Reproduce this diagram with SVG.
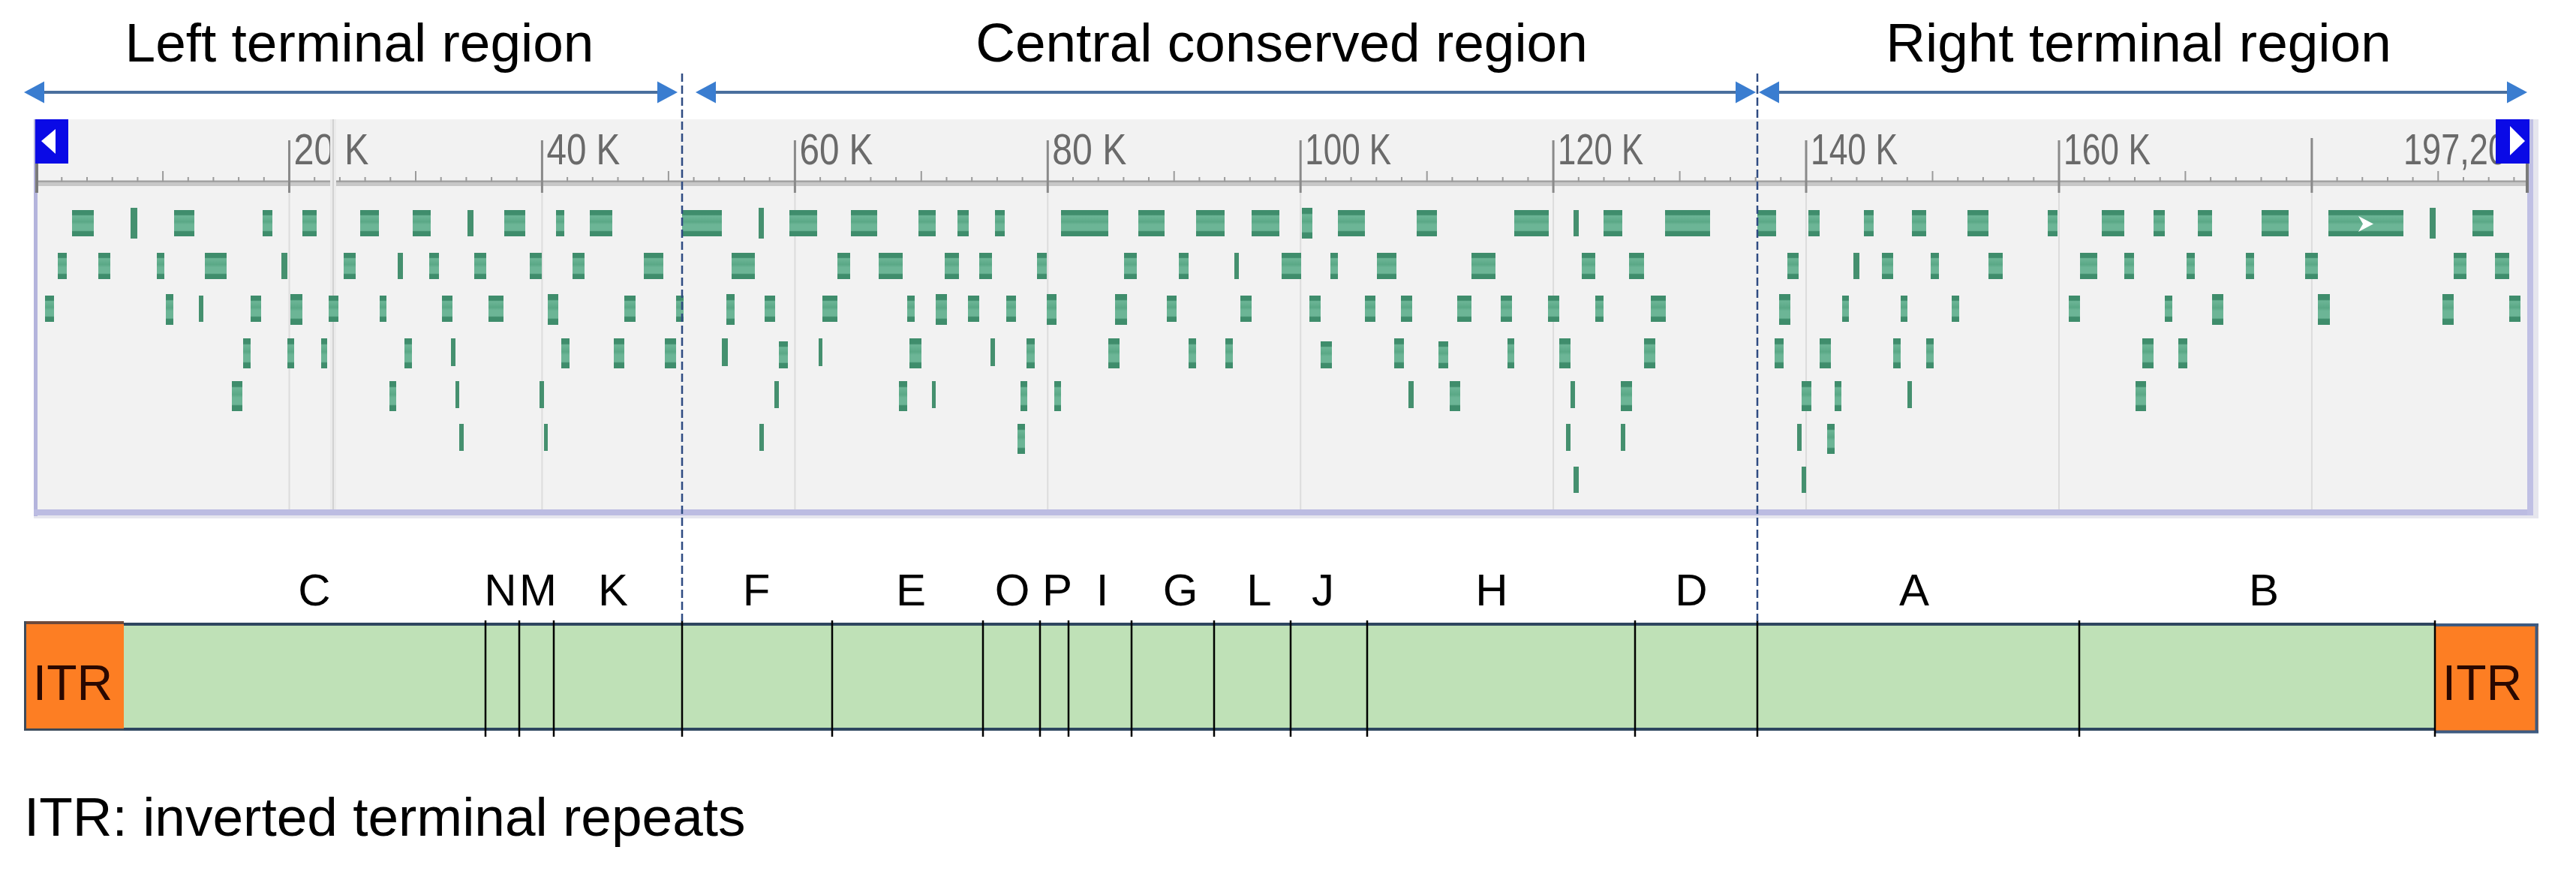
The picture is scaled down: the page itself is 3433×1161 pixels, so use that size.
<svg xmlns="http://www.w3.org/2000/svg" width="3433" height="1161" viewBox="0 0 3433 1161">
<style>
text{font-family:"Liberation Sans",Arial,sans-serif}
.title{font-size:73px;fill:#000;text-anchor:middle}
.lbl{font-size:60px;fill:#000;text-anchor:middle}
.itrt{font-size:66px;fill:#2a0800;text-anchor:middle}
.rl{font-size:58px;fill:#6a6a6a}
.g{fill:url(#gg)}
.t{fill:#45906f}
.seg{fill:#bfe1b7}
.div{stroke:#000;stroke-width:2.5}
.dash{stroke:#2f4b82;stroke-width:2.5;stroke-dasharray:11 5;fill:none}
.arr{stroke:#4a6f9e;stroke-width:4;fill:none;marker-start:url(#ah);marker-end:url(#ah)}
.grid{stroke:#dcdcdc;stroke-width:2}
.tick{stroke:#9a9a9a;stroke-width:2;fill:none}
.major{stroke:#8a8a8a;stroke-width:3;fill:none}
.itr{fill:#fd7e23}
.blue{fill:#0a0ae6}
</style>
<defs>
<linearGradient id="gg" x1="0" y1="0" x2="0" y2="1">
<stop offset="0" stop-color="#3f8d6c"/>
<stop offset="0.18" stop-color="#3f8d6c"/>
<stop offset="0.22" stop-color="#6cb596"/>
<stop offset="0.45" stop-color="#5aa886"/>
<stop offset="0.55" stop-color="#6cb596"/>
<stop offset="0.78" stop-color="#6cb596"/>
<stop offset="0.82" stop-color="#3f8d6c"/>
<stop offset="1" stop-color="#3f8d6c"/>
</linearGradient>
<marker id="ah" markerUnits="userSpaceOnUse" markerWidth="27" markerHeight="30" refX="0" refY="15" orient="auto-start-reverse" viewBox="0 0 27 30">
<path d="M0 0.5L27 15L0 29.5Z" fill="#3a7dd0"/>
</marker>
</defs>
<rect width="3433" height="1161" fill="#fff"/>

<!-- region titles -->
<g id="title-left"><text class="title" x="479" y="82">Left terminal region</text></g>
<g id="title-central"><text class="title" x="1708" y="82">Central conserved region</text></g>
<g id="title-right"><text class="title" x="2850" y="82">Right terminal region</text></g>

<!-- genome browser panel -->
<g id="panel">
<rect x="46" y="159" width="3326" height="522" fill="#f2f2f2"/>
<rect x="45" y="687" width="3338" height="4" fill="#e6e6ee"/>
<rect x="3376" y="159" width="7" height="532" fill="#e6e6ee"/>
<rect x="45" y="159" width="5" height="529" fill="#b4b4dc"/>
<rect x="45" y="679" width="3331" height="8" fill="#bcbce2"/>
<rect x="3368" y="159" width="8" height="528" fill="#c0c0e4"/>
<g class="grid">
<path d="M385.5 257V679M722.4 257V679M1059.4 257V679M1396.3 257V679M1733.2 257V679M2070.1 257V679M2407 257V679M2744 257V679M3080.9 257V679"/>
</g>
<rect x="49" y="240" width="3319" height="8" fill="#c8c8c8"/>
<path d="M49 242H3368" stroke="#a2a2a2" stroke-width="2"/>
<path class="tick" d="M82.3 236V242M116 236V242M149.7 236V242M183.4 236V242M250.8 236V242M284.4 236V242M318.1 236V242M351.8 236V242M419.2 236V242M452.9 236V242M486.6 236V242M520.3 236V242M587.7 236V242M621.4 236V242M655.1 236V242M688.7 236V242M756.1 236V242M789.8 236V242M823.5 236V242M857.2 236V242M924.6 236V242M958.3 236V242M992 236V242M1025.7 236V242M1093.1 236V242M1126.7 236V242M1160.4 236V242M1194.1 236V242M1261.5 236V242M1295.2 236V242M1328.9 236V242M1362.6 236V242M1430 236V242M1463.7 236V242M1497.4 236V242M1531 236V242M1598.4 236V242M1632.1 236V242M1665.8 236V242M1699.5 236V242M1766.9 236V242M1800.6 236V242M1834.3 236V242M1868 236V242M1935.4 236V242M1969 236V242M2002.7 236V242M2036.4 236V242M2103.8 236V242M2137.5 236V242M2171.2 236V242M2204.9 236V242M2272.3 236V242M2306 236V242M2339.7 236V242M2373.3 236V242M2440.7 236V242M2474.4 236V242M2508.1 236V242M2541.8 236V242M2609.2 236V242M2642.9 236V242M2676.6 236V242M2710.3 236V242M2777.7 236V242M2811.3 236V242M2845 236V242M2878.7 236V242M2946.1 236V242M2979.8 236V242M3013.5 236V242M3047.2 236V242M3114.6 236V242M3148.3 236V242M3182 236V242M3215.6 236V242M3283 236V242M3316.7 236V242M3350.4 236V242"/>
<path class="tick" d="M217.1 228V242M554 228V242M890.9 228V242M1227.8 228V242M1564.7 228V242M1901.7 228V242M2238.6 228V242M2575.5 228V242M2912.4 228V242M3249.3 228V242"/>
<path class="major" d="M385.5 187V257M722.4 187V257M1059.4 187V257M1396.3 187V257M1733.2 187V257M2070.1 187V257M2407 187V257M2744 187V257M3080.9 184V257"/>
<path d="M49 218V257M3368 218V257" stroke="#7a7a7a" stroke-width="4"/>
<text class="rl" x="391.5" y="219" textLength="100" lengthAdjust="spacingAndGlyphs">20 K</text>
<text class="rl" x="728.4" y="219" textLength="98" lengthAdjust="spacingAndGlyphs">40 K</text>
<text class="rl" x="1065.4" y="219" textLength="98" lengthAdjust="spacingAndGlyphs">60 K</text>
<text class="rl" x="1402.3" y="219" textLength="99" lengthAdjust="spacingAndGlyphs">80 K</text>
<text class="rl" x="1739.2" y="219" textLength="115" lengthAdjust="spacingAndGlyphs">100 K</text>
<text class="rl" x="2076.1" y="219" textLength="114" lengthAdjust="spacingAndGlyphs">120 K</text>
<text class="rl" x="2413" y="219" textLength="116" lengthAdjust="spacingAndGlyphs">140 K</text>
<text class="rl" x="2750" y="219" textLength="116" lengthAdjust="spacingAndGlyphs">160 K</text>
<text class="rl" x="3203" y="219" textLength="138" lengthAdjust="spacingAndGlyphs">197,20</text>
<rect x="440" y="159" width="8" height="520" fill="#ebebeb"/>
<path d="M444 159V679" stroke="#d2d2d2" stroke-width="2"/>

<g id="track-row1" transform="translate(0,280)">
<rect class="g" x="96" y="0" width="29" height="35"/>
<rect class="t" x="174" y="-3" width="9" height="41"/>
<rect class="g" x="232" y="0" width="27" height="35"/>
<rect class="g" x="350" y="0" width="13" height="35"/>
<rect class="g" x="403" y="0" width="19" height="35"/>
<rect class="g" x="480" y="0" width="25" height="35"/>
<rect class="g" x="550" y="0" width="24" height="35"/>
<rect class="t" x="623" y="0" width="8" height="35"/>
<rect class="g" x="672" y="0" width="28" height="35"/>
<rect class="g" x="741" y="0" width="11" height="35"/>
<rect class="g" x="786" y="0" width="30" height="35"/>
<rect class="g" x="909" y="0" width="53" height="35"/>
<rect class="t" x="1011" y="-3" width="7" height="41"/>
<rect class="g" x="1052" y="0" width="37" height="35"/>
<rect class="g" x="1134" y="0" width="35" height="35"/>
<rect class="g" x="1224" y="0" width="23" height="35"/>
<rect class="g" x="1276" y="0" width="15" height="35"/>
<rect class="g" x="1326" y="0" width="13" height="35"/>
<rect class="g" x="1414" y="0" width="63" height="35"/>
<rect class="g" x="1517" y="0" width="35" height="35"/>
<rect class="g" x="1594" y="0" width="38" height="35"/>
<rect class="g" x="1668" y="0" width="37" height="35"/>
<rect class="g" x="1735" y="-3" width="14" height="41"/>
<rect class="g" x="1783" y="0" width="36" height="35"/>
<rect class="g" x="1888" y="0" width="27" height="35"/>
<rect class="g" x="2018" y="0" width="46" height="35"/>
<rect class="t" x="2097" y="0" width="7" height="35"/>
<rect class="g" x="2137" y="0" width="25" height="35"/>
<rect class="g" x="2219" y="0" width="60" height="35"/>
<rect class="g" x="2342" y="0" width="25" height="35"/>
<rect class="g" x="2410" y="0" width="15" height="35"/>
<rect class="g" x="2484" y="0" width="13" height="35"/>
<rect class="g" x="2548" y="0" width="19" height="35"/>
<rect class="g" x="2622" y="0" width="28" height="35"/>
<rect class="g" x="2729" y="0" width="13" height="35"/>
<rect class="g" x="2801" y="0" width="30" height="35"/>
<rect class="g" x="2870" y="0" width="15" height="35"/>
<rect class="g" x="2929" y="0" width="19" height="35"/>
<rect class="g" x="3014" y="0" width="36" height="35"/>
<rect class="g" x="3103" y="0" width="100" height="35"/>
<polygon points="3143,8 3163,18.5 3143,29 3149,18.5" fill="#fff"/>
<rect class="t" x="3238" y="-3" width="8" height="41"/>
<rect class="g" x="3295" y="0" width="28" height="35"/>
</g>

<g id="track-row2" transform="translate(0,337)">
<rect class="g" x="77" y="0" width="12" height="35"/>
<rect class="g" x="131" y="0" width="16" height="35"/>
<rect class="g" x="209" y="0" width="10" height="35"/>
<rect class="g" x="273" y="0" width="29" height="35"/>
<rect class="t" x="375" y="0" width="8" height="35"/>
<rect class="g" x="458" y="0" width="16" height="35"/>
<rect class="t" x="530" y="0" width="7" height="35"/>
<rect class="g" x="572" y="0" width="13" height="35"/>
<rect class="g" x="632" y="0" width="16" height="35"/>
<rect class="g" x="706" y="0" width="16" height="35"/>
<rect class="g" x="763" y="0" width="16" height="35"/>
<rect class="g" x="858" y="0" width="26" height="35"/>
<rect class="g" x="975" y="0" width="31" height="35"/>
<rect class="g" x="1116" y="0" width="17" height="35"/>
<rect class="g" x="1171" y="0" width="32" height="35"/>
<rect class="g" x="1259" y="0" width="19" height="35"/>
<rect class="g" x="1305" y="0" width="17" height="35"/>
<rect class="g" x="1382" y="0" width="13" height="35"/>
<rect class="g" x="1498" y="0" width="17" height="35"/>
<rect class="g" x="1571" y="0" width="13" height="35"/>
<rect class="t" x="1645" y="0" width="6" height="35"/>
<rect class="g" x="1708" y="0" width="26" height="35"/>
<rect class="g" x="1773" y="0" width="10" height="35"/>
<rect class="g" x="1835" y="0" width="26" height="35"/>
<rect class="g" x="1961" y="0" width="32" height="35"/>
<rect class="g" x="2108" y="0" width="18" height="35"/>
<rect class="g" x="2171" y="0" width="20" height="35"/>
<rect class="g" x="2382" y="0" width="15" height="35"/>
<rect class="t" x="2470" y="0" width="8" height="35"/>
<rect class="g" x="2508" y="0" width="15" height="35"/>
<rect class="g" x="2573" y="0" width="11" height="35"/>
<rect class="g" x="2650" y="0" width="19" height="35"/>
<rect class="g" x="2772" y="0" width="23" height="35"/>
<rect class="g" x="2831" y="0" width="13" height="35"/>
<rect class="g" x="2914" y="0" width="11" height="35"/>
<rect class="g" x="2993" y="0" width="11" height="35"/>
<rect class="g" x="3072" y="0" width="17" height="35"/>
<rect class="g" x="3270" y="0" width="17" height="35"/>
<rect class="g" x="3325" y="0" width="19" height="35"/>
</g>

<g id="track-row3" transform="translate(0,394)">
<rect class="g" x="60" y="0" width="12" height="35"/>
<rect class="g" x="221" y="-2" width="10" height="41"/>
<rect class="t" x="265" y="0" width="6" height="35"/>
<rect class="g" x="334" y="0" width="14" height="35"/>
<rect class="g" x="387" y="-2" width="16" height="41"/>
<rect class="g" x="438" y="0" width="13" height="35"/>
<rect class="g" x="506" y="0" width="9" height="35"/>
<rect class="g" x="589" y="0" width="14" height="35"/>
<rect class="g" x="651" y="0" width="20" height="35"/>
<rect class="g" x="730" y="-2" width="14" height="41"/>
<rect class="g" x="832" y="0" width="15" height="35"/>
<rect class="g" x="901" y="0" width="10" height="35"/>
<rect class="g" x="968" y="-2" width="11" height="41"/>
<rect class="g" x="1019" y="0" width="14" height="35"/>
<rect class="g" x="1096" y="0" width="20" height="35"/>
<rect class="g" x="1209" y="0" width="10" height="35"/>
<rect class="g" x="1247" y="-2" width="15" height="41"/>
<rect class="g" x="1290" y="0" width="15" height="35"/>
<rect class="g" x="1341" y="0" width="13" height="35"/>
<rect class="g" x="1395" y="-2" width="13" height="41"/>
<rect class="g" x="1486" y="-2" width="16" height="41"/>
<rect class="g" x="1555" y="0" width="13" height="35"/>
<rect class="g" x="1653" y="0" width="15" height="35"/>
<rect class="g" x="1745" y="0" width="15" height="35"/>
<rect class="g" x="1819" y="0" width="14" height="35"/>
<rect class="g" x="1867" y="0" width="15" height="35"/>
<rect class="g" x="1942" y="0" width="19" height="35"/>
<rect class="g" x="2000" y="0" width="15" height="35"/>
<rect class="g" x="2063" y="0" width="15" height="35"/>
<rect class="g" x="2126" y="0" width="11" height="35"/>
<rect class="g" x="2200" y="0" width="20" height="35"/>
<rect class="g" x="2371" y="-2" width="15" height="41"/>
<rect class="g" x="2455" y="0" width="9" height="35"/>
<rect class="g" x="2533" y="0" width="9" height="35"/>
<rect class="g" x="2601" y="0" width="10" height="35"/>
<rect class="g" x="2757" y="0" width="15" height="35"/>
<rect class="g" x="2885" y="0" width="10" height="35"/>
<rect class="g" x="2948" y="-2" width="15" height="41"/>
<rect class="g" x="3089" y="-2" width="16" height="41"/>
<rect class="g" x="3255" y="-2" width="15" height="41"/>
<rect class="g" x="3344" y="0" width="15" height="35"/>
</g>

<g id="track-row4" transform="translate(0,451)">
<rect class="g" x="324" y="0" width="10" height="40"/>
<rect class="g" x="383" y="0" width="9" height="40"/>
<rect class="g" x="428" y="0" width="8" height="40"/>
<rect class="g" x="539" y="0" width="10" height="40"/>
<rect class="t" x="601" y="0" width="6" height="37"/>
<rect class="g" x="748" y="0" width="11" height="40"/>
<rect class="g" x="818" y="0" width="14" height="40"/>
<rect class="g" x="886" y="0" width="15" height="40"/>
<rect class="t" x="962" y="0" width="8" height="37"/>
<rect class="g" x="1038" y="4" width="12" height="36"/>
<rect class="t" x="1091" y="0" width="5" height="37"/>
<rect class="g" x="1212" y="0" width="16" height="40"/>
<rect class="t" x="1320" y="0" width="6" height="37"/>
<rect class="g" x="1368" y="0" width="11" height="40"/>
<rect class="g" x="1477" y="0" width="15" height="40"/>
<rect class="g" x="1584" y="0" width="10" height="40"/>
<rect class="g" x="1633" y="0" width="10" height="40"/>
<rect class="g" x="1760" y="4" width="15" height="36"/>
<rect class="g" x="1858" y="0" width="13" height="40"/>
<rect class="g" x="1917" y="4" width="13" height="36"/>
<rect class="g" x="2009" y="0" width="9" height="40"/>
<rect class="g" x="2078" y="0" width="15" height="40"/>
<rect class="g" x="2191" y="0" width="15" height="40"/>
<rect class="g" x="2365" y="0" width="12" height="40"/>
<rect class="g" x="2425" y="0" width="15" height="40"/>
<rect class="g" x="2523" y="0" width="10" height="40"/>
<rect class="g" x="2567" y="0" width="10" height="40"/>
<rect class="g" x="2855" y="0" width="15" height="40"/>
<rect class="g" x="2903" y="0" width="12" height="40"/>
</g>

<g id="track-row5" transform="translate(0,508)">
<rect class="g" x="309" y="0" width="14" height="40"/>
<rect class="g" x="519" y="0" width="9" height="40"/>
<rect class="t" x="607" y="0" width="5" height="36"/>
<rect class="t" x="719" y="0" width="6" height="36"/>
<rect class="t" x="1032" y="0" width="6" height="36"/>
<rect class="g" x="1198" y="0" width="11" height="40"/>
<rect class="t" x="1242" y="0" width="5" height="36"/>
<rect class="g" x="1360" y="0" width="9" height="40"/>
<rect class="g" x="1405" y="0" width="9" height="40"/>
<rect class="t" x="1877" y="0" width="7" height="36"/>
<rect class="g" x="1932" y="0" width="14" height="40"/>
<rect class="t" x="2093" y="0" width="6" height="36"/>
<rect class="g" x="2160" y="0" width="15" height="40"/>
<rect class="g" x="2401" y="0" width="13" height="40"/>
<rect class="g" x="2445" y="0" width="9" height="40"/>
<rect class="t" x="2542" y="0" width="6" height="36"/>
<rect class="g" x="2846" y="0" width="14" height="40"/>
</g>

<g id="track-row6" transform="translate(0,565)">
<rect class="t" x="612" y="0" width="6" height="36"/>
<rect class="t" x="725" y="0" width="5" height="36"/>
<rect class="t" x="1012" y="0" width="6" height="36"/>
<rect class="g" x="1356" y="0" width="10" height="40"/>
<rect class="t" x="2087" y="0" width="6" height="36"/>
<rect class="t" x="2160" y="0" width="6" height="36"/>
<rect class="t" x="2395" y="0" width="6" height="36"/>
<rect class="g" x="2435" y="0" width="10" height="40"/>
</g>

<g id="track-row7" transform="translate(0,622)">
<rect class="t" x="2097" y="0" width="7" height="35"/>
<rect class="t" x="2401" y="0" width="6" height="35"/>
</g>

<g id="nav-left">
<rect class="blue" x="47" y="159" width="44" height="59"/>
<polygon points="55,188 74,172 74,205" fill="#fff"/>
</g>
<g id="nav-right">
<rect class="blue" x="3326" y="159" width="45" height="59"/>
<polygon points="3345,168 3365,188 3345,207" fill="#fff"/>
</g>
</g>

<!-- genome bar -->
<g id="itr-left">
<rect class="itr" x="32" y="828" width="133" height="146"/>
<path d="M32 830H165" stroke="#6e4a3b" stroke-width="4"/>
<path d="M33.5 828V974M32 972.5H165" stroke="#3d4a5a" stroke-width="3"/>
<text class="itrt" x="97" y="933">ITR</text>
</g>
<g id="itr-right">
<rect class="itr" x="3245" y="831" width="138" height="146"/>
<path d="M3245 833H3383M3380.5 831V977M3245 975.5H3383" stroke="#3d5a80" stroke-width="4"/>
<text class="itrt" x="3308" y="933">ITR</text>
</g>
<g id="seg-C"><rect class="seg" x="165" y="832" width="482" height="140"/><text class="lbl" x="419" y="807">C</text></g>
<g id="seg-N"><rect class="seg" x="647" y="832" width="45" height="140"/><text class="lbl" x="667" y="807">N</text></g>
<g id="seg-M"><rect class="seg" x="692" y="832" width="46" height="140"/><text class="lbl" x="717" y="807">M</text></g>
<g id="seg-K"><rect class="seg" x="738" y="832" width="171" height="140"/><text class="lbl" x="817" y="807">K</text></g>
<g id="seg-F"><rect class="seg" x="909" y="832" width="200" height="140"/><text class="lbl" x="1008" y="807">F</text></g>
<g id="seg-E"><rect class="seg" x="1109" y="832" width="201" height="140"/><text class="lbl" x="1214" y="807">E</text></g>
<g id="seg-O"><rect class="seg" x="1310" y="832" width="76" height="140"/><text class="lbl" x="1349" y="807">O</text></g>
<g id="seg-P"><rect class="seg" x="1386" y="832" width="38" height="140"/><text class="lbl" x="1409" y="807">P</text></g>
<g id="seg-I"><rect class="seg" x="1424" y="832" width="84" height="140"/><text class="lbl" x="1469" y="807">I</text></g>
<g id="seg-G"><rect class="seg" x="1508" y="832" width="110" height="140"/><text class="lbl" x="1573" y="807">G</text></g>
<g id="seg-L"><rect class="seg" x="1618" y="832" width="102" height="140"/><text class="lbl" x="1678" y="807">L</text></g>
<g id="seg-J"><rect class="seg" x="1720" y="832" width="102" height="140"/><text class="lbl" x="1763" y="807">J</text></g>
<g id="seg-H"><rect class="seg" x="1822" y="832" width="357" height="140"/><text class="lbl" x="1988" y="807">H</text></g>
<g id="seg-D"><rect class="seg" x="2179" y="832" width="163" height="140"/><text class="lbl" x="2254" y="807">D</text></g>
<g id="seg-A"><rect class="seg" x="2342" y="832" width="429" height="140"/><text class="lbl" x="2551" y="807">A</text></g>
<g id="seg-B"><rect class="seg" x="2771" y="832" width="474" height="140"/><text class="lbl" x="3017" y="807">B</text></g>
<g id="bar-outline">
<path d="M165 832H3245M165 972H3245" stroke="#2e4660" stroke-width="4"/>
<path class="div" d="M647 827V982M692 827V982M738 827V982M909 827V982M1109 827V982M1310 827V982M1386 827V982M1424 827V982M1508 827V982M1618 827V982M1720 827V982M1822 827V982M2179 827V982M2342 827V982M2771 827V982M3245 827V982"/>
</g>

<g id="legend"><text x="32" y="1114" font-size="73px" fill="#000">ITR: inverted terminal repeats</text></g>

<!-- connectors -->
<g id="connectors">
<path class="dash" d="M909 98V828M2342 98V828"/>
<line class="arr" x1="59" y1="123" x2="876" y2="123"/>
<line class="arr" x1="954" y1="123" x2="2313" y2="123"/>
<line class="arr" x1="2371" y1="123" x2="3341" y2="123"/>
</g>
</svg>
